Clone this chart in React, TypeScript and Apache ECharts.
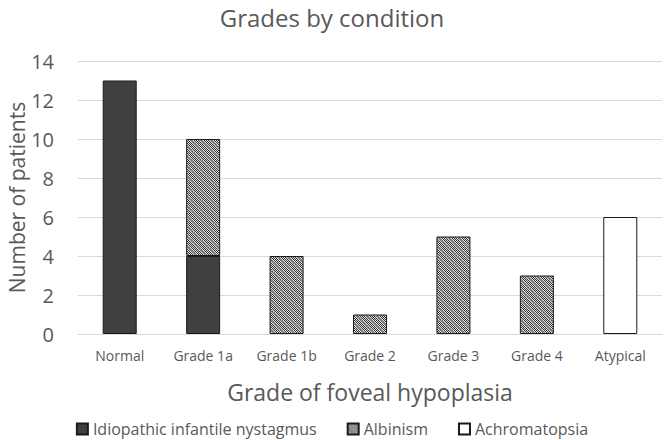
import React, { useEffect, useRef } from "react";
import * as echarts from "echarts";

const categories = ["Normal", "Grade 1a", "Grade 1b", "Grade 2", "Grade 3", "Grade 4", "Atypical"];
const insValues = [13, 4, 0, 0, 0, 0, 0];
const albinismValues = [0, 6, 4, 1, 5, 3, 0];
const achromaValues = [0, 0, 0, 0, 0, 0, 6];
const yTicks = { min: 0, max: 14, interval: 2 };

function makePattern(): HTMLCanvasElement {
  const n = 10;
  const c = document.createElement("canvas");
  c.width = n;
  c.height = n;
  const ctx = c.getContext("2d")!;
  for (let y = 0; y < n; y++) {
    for (let x = 0; x < n; x++) {
      const band = ((x - y + 2 * n) % n) < 3;
      const checker = (x + y) % 2 === 0;
      let col;
      if (band) col = "#808080";
      else col = checker ? "#333333" : "#e0e0e0";
      ctx.fillStyle = col;
      ctx.fillRect(x, y, 1, 1);
    }
  }
  return c;
}

const nz = (arr: number[]) => arr.map((v) => (v === 0 ? null : v));

export default function App() {
  const ref = useRef<HTMLDivElement>(null);
  useEffect(() => {
    if (!ref.current) return;
    const chart = echarts.init(ref.current, undefined, { renderer: "svg" });
    const font = "'Open Sans', 'Noto Sans', sans-serif";
    const txt = "#595959";
    const pattern = { image: makePattern(), repeat: "repeat" };
    chart.setOption({
      animation: false,
      textStyle: { fontFamily: font },
      title: {
        text: "Grades by condition",
        left: "center",
        top: 0,
        textStyle: { fontFamily: font, fontSize: 24, fontWeight: "normal", color: txt },
      },
      grid: { left: 78, right: 2, top: 61, bottom: 106, containLabel: false, outerBoundsMode: "none" },
      legend: {
        top: 420,
        left: "center",
        padding: 0,
        itemWidth: 11,
        itemHeight: 11,
        itemGap: 30,
        icon: "rect",
        textStyle: { fontFamily: font, fontSize: 16, lineHeight: 18, color: txt },
        data: ["Idiopathic infantile nystagmus", "Albinism", "Achromatopsia"],
      },
      xAxis: {
        type: "category",
        data: categories,
        name: "Grade of foveal hypoplasia",
        nameLocation: "middle",
        nameGap: 46,
        nameTextStyle: { fontFamily: font, fontSize: 23, color: txt },
        axisLine: { lineStyle: { color: "#d9d9d9" } },
        axisTick: { show: false },
        axisLabel: { fontFamily: font, fontSize: 14, color: txt, margin: 14, interval: 0, hideOverlap: false },
      },
      yAxis: {
        type: "value",
        min: yTicks.min,
        max: yTicks.max,
        interval: yTicks.interval,
        name: "Number of patients",
        nameLocation: "middle",
        nameGap: 51,
        nameMoveOverlap: false,
        nameTextStyle: { fontFamily: font, fontSize: 21, color: txt },
        axisLine: { show: false },
        axisTick: { show: false },
        axisLabel: { fontFamily: font, fontSize: 20, color: txt, margin: 24 },
        splitLine: { lineStyle: { color: "#d9d9d9" } },
      },
      series: [
        {
          name: "Idiopathic infantile nystagmus",
          type: "bar",
          stack: "a",
          barWidth: 34,
          data: nz(insValues),
          itemStyle: { color: "#404040", borderColor: "#1a1a1a", borderWidth: 1 },
        },
        {
          name: "Albinism",
          type: "bar",
          stack: "a",
          barWidth: 34,
          data: nz(albinismValues),
          itemStyle: { color: pattern, borderColor: "#1a1a1a", borderWidth: 1 },
        },
        {
          name: "Achromatopsia",
          type: "bar",
          stack: "a",
          barWidth: 34,
          data: nz(achromaValues),
          itemStyle: { color: "#ffffff", borderColor: "#1a1a1a", borderWidth: 1 },
        },
      ],
    });
    return () => chart.dispose();
  }, []);
  return <div ref={ref} style={{ width: 664, height: 440, position: "absolute", left: 0, top: 0 }} />;
}
